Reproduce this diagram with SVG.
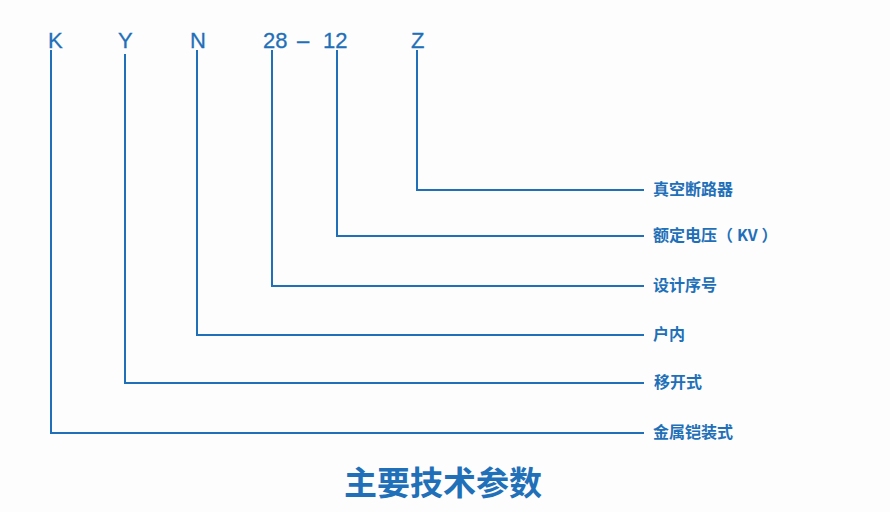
<svg xmlns="http://www.w3.org/2000/svg" width="890" height="512" viewBox="0 0 890 512">
<style>
.ln{fill:none;stroke:#1f70b8;stroke-width:2;stroke-linecap:square}
.code{font-family:"Liberation Sans",Arial,sans-serif;font-size:22px;fill:#1f70b8;stroke:#1f70b8;stroke-width:0.3}
.lbl{font-family:"Noto Sans CJK SC","Liberation Sans",sans-serif;font-size:16px;font-weight:bold;fill:#1f70b8}
.title{font-family:"Noto Sans CJK SC",sans-serif;font-size:33px;font-weight:bold;fill:#1f70b8}
</style>
<rect width="890" height="512" fill="#fdfdfd"/>
<g id="codes">
<text class="code" x="48" y="48">K</text>
<text class="code" x="118" y="48">Y</text>
<text class="code" x="190" y="48">N</text>
<text class="code" x="263" y="48">28</text>
<text class="code" x="297" y="48">–</text>
<text class="code" x="323" y="48">12</text>
<text class="code" x="411" y="48">Z</text>
</g>
<g id="connectors">
<path class="ln" d="M417 51V190H643"/>
<path class="ln" d="M337 51V236H643"/>
<path class="ln" d="M272 51V286H643"/>
<path class="ln" d="M197 51V335H643"/>
<path class="ln" d="M125 55V383H643"/>
<path class="ln" d="M51 51V433H643"/>
</g>
<g id="n1"><text class="lbl" x="653" y="195">真空断路器</text></g>
<g id="n2"><text class="lbl" x="653" y="241">额定电压（<tspan dx="4">KV</tspan><tspan dx="4">）</tspan></text></g>
<g id="n3"><text class="lbl" x="653" y="291">设计序号</text></g>
<g id="n4"><text class="lbl" x="653" y="340">户内</text></g>
<g id="n5"><text class="lbl" x="654" y="388">移开式</text></g>
<g id="n6"><text class="lbl" x="653" y="438">金属铠装式</text></g>
<g id="title"><text class="title" x="443" y="495" text-anchor="middle">主要技术参数</text></g>
</svg>
